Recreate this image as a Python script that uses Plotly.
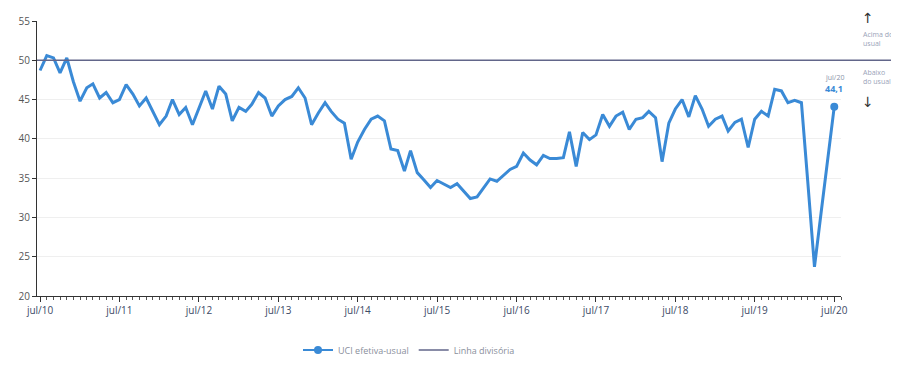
import pandas as pd
import plotly.graph_objects as go

# Monthly "UCI efetiva-usual" from jul/2010 to jul/2020 (121 values)
uci_values = [
    48.7, 50.6, 50.3, 48.4, 50.3, 47.3, 44.8, 46.5, 47.0, 45.2, 45.9, 44.6,   # jul/10 - jun/11
    45.0, 46.9, 45.7, 44.2, 45.2, 43.5, 41.8, 42.9, 45.0, 43.1, 44.0, 41.8,   # jul/11 - jun/12
    44.0, 46.1, 43.8, 46.7, 45.7, 42.3, 44.0, 43.5, 44.4, 45.9, 45.2, 42.9,   # jul/12 - jun/13
    44.2, 45.0, 45.4, 46.5, 45.2, 41.8, 43.3, 44.6, 43.5, 42.5, 42.0, 37.4,   # jul/13 - jun/14
    39.6, 41.2, 42.5, 42.9, 42.3, 38.7, 38.5, 35.9, 38.5, 35.7, 34.8, 33.8,   # jul/14 - jun/15
    34.7, 34.2, 33.8, 34.3, 33.3, 32.4, 32.6, 33.8, 34.9, 34.6, 35.4, 36.1,   # jul/15 - jun/16
    36.5, 38.2, 37.3, 36.7, 37.9, 37.5, 37.5, 37.6, 40.9, 36.5, 40.8, 39.9,   # jul/16 - jun/17
    40.5, 43.1, 41.6, 42.9, 43.4, 41.2, 42.5, 42.7, 43.5, 42.7, 37.1, 42.0,   # jul/17 - jun/18
    43.8, 45.0, 42.8, 45.5, 43.8, 41.6, 42.5, 42.9, 41.0, 42.1, 42.5, 38.9,   # jul/18 - jun/19
    42.5, 43.5, 42.9, 46.3, 46.1, 44.6, 44.9, 44.6, 34.6, 23.7, 30.5, 37.3,   # jul/19 - jun/20
    44.1,                                                                      # jul/20
]
months = pd.date_range("2010-07-01", periods=len(uci_values), freq="MS")

divider_value = 50
tick_dates = pd.date_range("2010-07-01", "2020-07-01", freq="12MS")
tick_labels = ["jul/10", "jul/11", "jul/12", "jul/13", "jul/14", "jul/15",
               "jul/16", "jul/17", "jul/18", "jul/19", "jul/20"]
last_label = "jul/20"
last_value_text = "<b>44,1</b>"

BLUE = "#3a8ad6"
DIV = "#62668a"
FONT = "Open Sans"

# page body has an 8px margin; figure is sized to fit the 899x367 window
OFF = 8
W, H = 899 - OFF, 367 - OFF
# target plot area in window pixels: x 37..841, y 21..296
L, R, T, B = 37 - OFF, W - (841 - OFF), 21 - OFF, H - (296 - OFF)

fig = go.Figure()

fig.add_trace(go.Scatter(
    x=months, y=uci_values, mode="lines",
    line=dict(color=BLUE, width=3), showlegend=False, hoverinfo="x+y",
))
fig.add_trace(go.Scatter(
    x=months[-1:], y=uci_values[-1:], mode="lines+markers",
    name="UCI efetiva-usual",
    line=dict(color=BLUE, width=2), marker=dict(color=BLUE, size=8),
))


def pxx(px):
    return (px - 37) / (841 - 37)


def pxy(py):
    return (296 - py) / (296 - 21)


fig.add_shape(
    type="line", xref="paper", yref="y", x0=0, x1=pxx(899),
    y0=divider_value, y1=divider_value,
    line=dict(color=DIV, width=1.5), showlegend=True, name="Linha divisória",
    layer="above",
)

# end-point labels
fig.add_annotation(x=months[-1], y=uci_values[-1], text=last_value_text,
                   showarrow=False, yshift=18, font=dict(size=9, color=BLUE, family=FONT),
                   xanchor="center")
fig.add_annotation(x=months[-1], y=uci_values[-1], text=last_label,
                   showarrow=False, yshift=29, font=dict(size=7, color="#8a93a8", family=FONT),
                   xanchor="center")

# right side notes
side_color = "#9aa3b8"
fig.add_annotation(xref="paper", yref="paper", x=pxx(868), y=pxy(18), text="↑",
                   showarrow=False, font=dict(size=14, color="#333333", family="DejaVu Sans"),
                   xanchor="center", yanchor="middle")
fig.add_annotation(xref="paper", yref="paper", x=pxx(861), y=pxy(39), text="Acima do<br>usual",
                   showarrow=False, align="left", font=dict(size=7, color=side_color, family=FONT),
                   xanchor="left", yanchor="middle")
fig.add_annotation(xref="paper", yref="paper", x=pxx(861), y=pxy(77), text="Abaixo<br>do usual",
                   showarrow=False, align="left", font=dict(size=7, color=side_color, family=FONT),
                   xanchor="left", yanchor="middle")
fig.add_annotation(xref="paper", yref="paper", x=pxx(868), y=pxy(102), text="↓",
                   showarrow=False, font=dict(size=14, color="#333333", family="DejaVu Sans"),
                   xanchor="center", yanchor="middle")

fig.update_layout(
    width=W, height=H,
    margin=dict(l=L, r=R, t=T, b=B, autoexpand=False),
    paper_bgcolor="white", plot_bgcolor="white",
    font=dict(family=FONT, size=10, color="#555555"),
    legend=dict(orientation="h", x=pxx(298), y=pxy(350), xanchor="left", yanchor="middle",
                font=dict(size=9, color="#8a8f9c"), bgcolor="rgba(0,0,0,0)",
                itemwidth=30, tracegroupgap=0),
)

fig.update_xaxes(
    range=["2010-06-17", "2020-08-01"],
    tickvals=tick_dates, ticktext=tick_labels,
    ticks="outside", ticklen=5, tickcolor="#333333",
    tickfont=dict(size=10, color="#3d4a66", family=FONT),
    showline=True, linecolor="#333333", linewidth=1.2,
    showgrid=False, zeroline=False, automargin=False,
    minor=dict(ticks="outside", ticklen=3, tickcolor="#555555", dtick="M1",
               tick0="2010-07-01", showgrid=False),
)
fig.update_yaxes(
    range=[20, 55], dtick=5, tick0=20,
    ticks="outside", ticklen=4, tickcolor="#333333",
    tickfont=dict(size=10, color="#555555", family=FONT),
    showline=True, linecolor="#333333", linewidth=1.2, automargin=False,
    showgrid=True, gridcolor="#efefef", gridwidth=1, zeroline=False,
)

fig.write_html("out.html")
